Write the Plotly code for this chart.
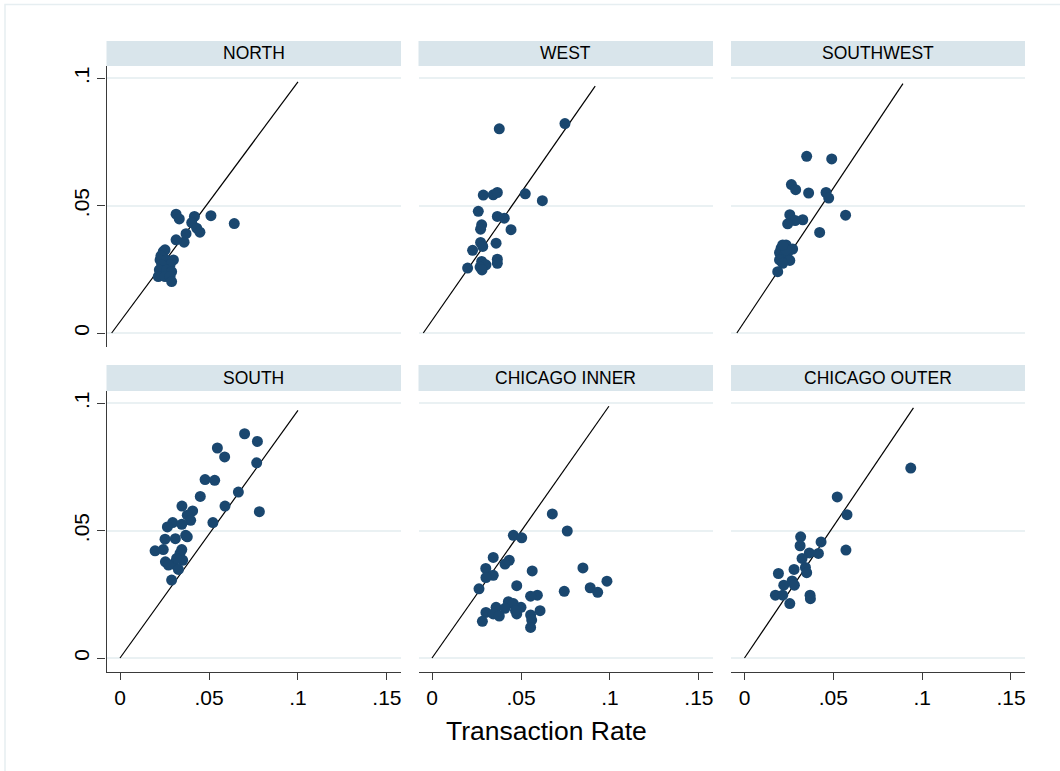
import plotly.graph_objects as go

W, H = 1060, 771

regions = ["NORTH", "WEST", "SOUTHWEST", "SOUTH", "CHICAGO INNER", "CHICAGO OUTER"]

north_x = [0.0315, 0.0333, 0.0418, 0.0403, 0.0511, 0.0642, 0.0431, 0.0449, 0.0371, 0.0360,
           0.0315, 0.0243, 0.0253, 0.0230, 0.0225, 0.0262, 0.0300, 0.0281, 0.0234, 0.0221,
           0.0262, 0.0290, 0.0215, 0.0253, 0.0281, 0.0290]
north_y = [0.0467, 0.0448, 0.0458, 0.0434, 0.0461, 0.0430, 0.0412, 0.0396, 0.0390, 0.0357,
           0.0366, 0.0320, 0.0327, 0.0303, 0.0287, 0.0287, 0.0287, 0.0268, 0.0268, 0.0248,
           0.0248, 0.0241, 0.0222, 0.0222, 0.0222, 0.0202]

west_x = [0.0378, 0.0747, 0.0288, 0.0344, 0.0367, 0.0524, 0.0620, 0.0260, 0.0367, 0.0406,
          0.0279, 0.0273, 0.0444, 0.0273, 0.0285, 0.0360, 0.0228, 0.0367, 0.0367, 0.0279,
          0.0303, 0.0270, 0.0281, 0.0200]
west_y = [0.0802, 0.0823, 0.0542, 0.0543, 0.0552, 0.0547, 0.0520, 0.0478, 0.0458, 0.0451,
          0.0425, 0.0408, 0.0406, 0.0356, 0.0340, 0.0353, 0.0325, 0.0290, 0.0274, 0.0281,
          0.0268, 0.0259, 0.0248, 0.0255]

southwest_x = [0.0350, 0.0491, 0.0264, 0.0288, 0.0361, 0.0459, 0.0474, 0.0569, 0.0255, 0.0328,
               0.0285, 0.0243, 0.0423, 0.0234, 0.0206, 0.0271, 0.0197, 0.0243, 0.0221, 0.0197,
               0.0255, 0.0215, 0.0187, 0.0234, 0.0215]
southwest_y = [0.0694, 0.0684, 0.0583, 0.0563, 0.0550, 0.0552, 0.0530, 0.0463, 0.0465, 0.0445,
               0.0442, 0.0429, 0.0395, 0.0346, 0.0333, 0.0330, 0.0316, 0.0316, 0.0300, 0.0287,
               0.0285, 0.0274, 0.0241, 0.0327, 0.0346]

south_x = [0.0700, 0.0772, 0.0547, 0.0588, 0.0768, 0.0478, 0.0532, 0.0665, 0.0451, 0.0348,
           0.0590, 0.0408, 0.0783, 0.0378, 0.0397, 0.0296, 0.0347, 0.0522, 0.0266, 0.0369,
           0.0378, 0.0311, 0.0253, 0.0347, 0.0243, 0.0197, 0.0337, 0.0352, 0.0255, 0.0300,
           0.0328, 0.0318, 0.0290, 0.0272]
south_y = [0.0881, 0.0851, 0.0825, 0.0790, 0.0767, 0.0701, 0.0698, 0.0652, 0.0635, 0.0597,
           0.0597, 0.0578, 0.0575, 0.0561, 0.0541, 0.0532, 0.0525, 0.0532, 0.0515, 0.0482,
           0.0476, 0.0469, 0.0467, 0.0426, 0.0426, 0.0421, 0.0411, 0.0384, 0.0378, 0.0369,
           0.0348, 0.0391, 0.0306, 0.0365]

inner_x = [0.0676, 0.0760, 0.0457, 0.0504, 0.0344, 0.0434, 0.0410, 0.0302, 0.0563, 0.0848,
           0.0344, 0.0303, 0.0983, 0.0476, 0.0264, 0.0889, 0.0931, 0.0743, 0.0592, 0.0554,
           0.0429, 0.0457, 0.0500, 0.0360, 0.0410, 0.0303, 0.0344, 0.0378, 0.0476, 0.0607,
           0.0554, 0.0560, 0.0283, 0.0554, 0.0469]
inner_y = [0.0566, 0.0499, 0.0482, 0.0472, 0.0395, 0.0384, 0.0369, 0.0352, 0.0342, 0.0354,
           0.0325, 0.0316, 0.0302, 0.0284, 0.0272, 0.0276, 0.0258, 0.0262, 0.0247, 0.0243,
           0.0221, 0.0214, 0.0199, 0.0199, 0.0195, 0.0179, 0.0173, 0.0165, 0.0173, 0.0186,
           0.0169, 0.0149, 0.0144, 0.0120, 0.0187]

outer_x = [0.0936, 0.0522, 0.0577, 0.0316, 0.0313, 0.0431, 0.0571, 0.0365, 0.0416, 0.0324,
           0.0343, 0.0279, 0.0350, 0.0191, 0.0268, 0.0221, 0.0281, 0.0174, 0.0215, 0.0369,
           0.0371, 0.0255]
outer_y = [0.0746, 0.0633, 0.0563, 0.0476, 0.0441, 0.0456, 0.0424, 0.0413, 0.0411, 0.0391,
           0.0356, 0.0348, 0.0335, 0.0332, 0.0303, 0.0286, 0.0286, 0.0247, 0.0247, 0.0247,
           0.0233, 0.0214]

# reference line end points per panel
line_x0 = [-0.0047, -0.0049, -0.0043, 0.0, 0.0, 0.0]
line_y0 = [0.0, 0.0, 0.0, 0.0, 0.0, 0.0]
line_x1 = [0.1000, 0.0917, 0.0892, 0.1000, 0.0994, 0.0951]
line_y1 = [0.0987, 0.0970, 0.0980, 0.0973, 0.0989, 0.0983]

xs = [north_x, west_x, southwest_x, south_x, inner_x, outer_x]
ys = [north_y, west_y, southwest_y, south_y, inner_y, outer_y]

x_ticks = [0, 0.05, 0.1, 0.15]
x_ticktext = ["0", ".05", ".1", ".15"]
y_ticks = [0, 0.05, 0.1]
y_ticktext = ["0", ".05", ".1"]

x_title = "Transaction Rate"

# layout geometry (pixels)
col_px = [(106.5, 401.0), (418.5, 713.0), (731.0, 1025.0)]
row_px = [(66.0, 347.0), (391.0, 672.0)]
strip_px = [(41.0, 66.0), (365.0, 391.0)]

MARKER = "#1A476F"
GRID = "#EAF1F3"
STRIP = "#D9E5EB"
AXIS = "#3a3a3a"
FONT = "Liberation Sans, Arial, sans-serif"

fig = go.Figure()
layout = dict(
    width=W, height=H,
    margin=dict(l=0, r=0, t=0, b=0),
    paper_bgcolor="white", plot_bgcolor="white",
    showlegend=False,
    font=dict(family=FONT, color="black"),
)
shapes = []
annotations = []

for i in range(6):
    r, c = divmod(i, 3)
    n = i + 1
    xa = "x" if n == 1 else f"x{n}"
    ya = "y" if n == 1 else f"y{n}"
    xkey = "xaxis" if n == 1 else f"xaxis{n}"
    ykey = "yaxis" if n == 1 else f"yaxis{n}"
    x0p, x1p = col_px[c]
    y0p, y1p = row_px[r]
    layout[xkey] = dict(
        domain=[x0p / W, x1p / W], anchor=ya,
        range=[-0.0076, 0.1579], showgrid=False, zeroline=False,
        tickvals=x_ticks, ticktext=x_ticktext,
        showline=(r == 1), linecolor=AXIS, linewidth=1.3,
        ticks="outside" if r == 1 else "", ticklen=7, tickwidth=1.3, tickcolor=AXIS,
        showticklabels=(r == 1), tickfont=dict(size=21, family=FONT, color="black"),
    )
    layout[ykey] = dict(
        domain=[1 - y1p / H, 1 - y0p / H], anchor=xa,
        range=[-0.0055, 0.1049], showgrid=True, gridcolor=GRID, gridwidth=2,
        zeroline=False, tickvals=y_ticks, ticktext=y_ticktext,
        showline=(c == 0), linecolor=AXIS, linewidth=1.3,
        ticks="outside" if c == 0 else "", ticklen=8, tickwidth=1.3, tickcolor=AXIS,
        showticklabels=(c == 0), tickangle=-90,
        tickfont=dict(size=21, family=FONT, color="black"),
    )
    fig.add_trace(go.Scatter(
        x=[line_x0[i], line_x1[i]], y=[line_y0[i], line_y1[i]],
        mode="lines", line=dict(color="black", width=1.2),
        xaxis=xa, yaxis=ya, hoverinfo="skip",
    ))
    fig.add_trace(go.Scatter(
        x=xs[i], y=ys[i], mode="markers",
        marker=dict(color=MARKER, size=11, line=dict(width=0)),
        xaxis=xa, yaxis=ya, name=regions[i],
    ))
    s0, s1 = strip_px[r]
    shapes.append(dict(
        type="rect", xref="paper", yref="paper",
        x0=x0p / W, x1=x1p / W, y0=1 - s1 / H, y1=1 - s0 / H,
        fillcolor=STRIP, line=dict(width=0), layer="below",
    ))
    annotations.append(dict(
        text=regions[i], xref="paper", yref="paper",
        x=(x0p + x1p) / 2 / W, y=1 - (s0 + s1) / 2 / H,
        xanchor="center", yanchor="middle", showarrow=False,
        font=dict(size=17.5, family=FONT, color="black"),
    ))

# outer light frame
shapes.append(dict(
    type="rect", xref="paper", yref="paper",
    x0=5 / W, x1=1.02, y0=-0.02, y1=1 - 4.5 / H,
    line=dict(color="#E6EEF1", width=1.5), fillcolor="rgba(0,0,0,0)", layer="below",
))

annotations.append(dict(
    text=x_title, xref="paper", yref="paper",
    x=546.5 / W, y=1 - 731 / H, xanchor="center", yanchor="middle",
    showarrow=False, font=dict(size=26.5, family=FONT, color="black"),
))

layout["shapes"] = shapes
layout["annotations"] = annotations
fig.update_layout(**layout)
fig.write_html("out.html", config={"displayModeBar": False},
               post_script="document.body.style.margin='0';document.body.style.padding='0';")
